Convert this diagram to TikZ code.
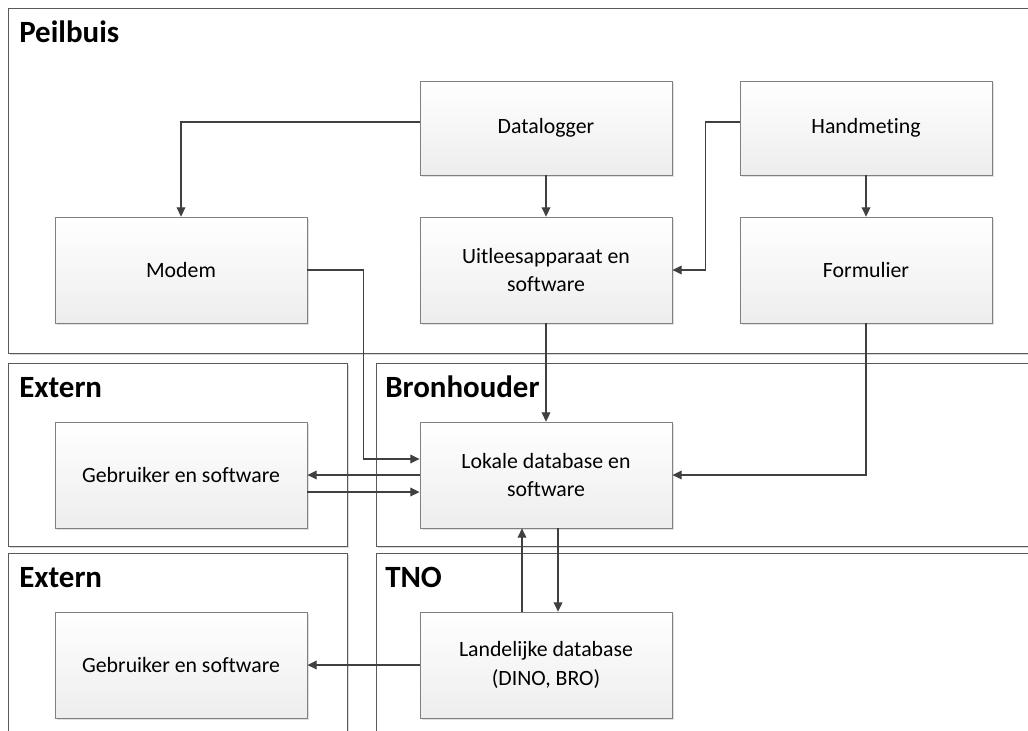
\documentclass[tikz,border=0pt]{standalone}
\usepackage{fontspec}
\setmainfont[Ligatures={NoCommon}]{Carlito}
\usetikzlibrary{shadows,arrows.meta}
\definecolor{linegray}{HTML}{404040}
\definecolor{framegray}{HTML}{595959}
\definecolor{boxgray}{HTML}{808080}
\begin{document}
\begin{tikzpicture}[x=0.025cm,y=-0.025cm,
	blok/.style={draw=boxgray,line width=0.6pt,top color=white,bottom color=black!7,minimum
			width=6.3cm,minimum height=2.65cm,inner sep=0pt,align=center,text=black,
			font=\fontsize{15.5}{20.5}\selectfont,
			drop shadow={shadow xshift=0.06cm,shadow yshift=-0.06cm,fill=black!12,opacity=1}},
	kop/.style={anchor=base west,inner sep=0pt,font=\fontsize{22}{26}\selectfont\bfseries},
	zone/.style={draw=framegray,line width=0.6pt,fill=white,
			drop shadow={shadow xshift=0.04cm,shadow yshift=-0.05cm,fill=black!15,opacity=1}},
	pijl/.style={draw=linegray,line width=0.8pt,-{Triangle[length=0.23cm,width=0.22cm]}}]
	\useasboundingbox (0,0) rectangle (1028,731);
	\clip (0,0) rectangle (1028,731);
	% zones
	\draw[zone] (8,8) rectangle (1060,353);
	\draw[zone] (8,363) rectangle (347,546);
	\draw[zone] (376,363) rectangle (1060,546);
	\draw[zone] (8,553) rectangle (347,760);
	\draw[zone] (376,553) rectangle (1060,760);
	\node[kop] (peilbuis) at (19,42) {Peilbuis};
	\node[kop] (extern1) at (19,397) {Extern};
	\node[kop] (bronhouder) at (385,397) {Bronhouder};
	\node[kop] (extern2) at (19,587) {Extern};
	\node[kop] (tno) at (385,587) {TNO};
	% blokken
	\node[blok,minimum height=2.35cm] (datalogger) at (546,128) {Datalogger};
	\node[blok,minimum height=2.35cm] (handmeting) at (866,128) {Handmeting};
	\node[blok] (modem) at (181,270) {Modem};
	\node[blok] (uitlees) at (546,270) {Uitleesapparaat en\\software};
	\node[blok] (formulier) at (866,270) {Formulier};
	\node[blok] (gebruiker1) at (181,475) {Gebruiker en software};
	\node[blok] (lokaal) at (546,475) {Lokale database en\\software};
	\node[blok] (gebruiker2) at (181,665) {Gebruiker en software};
	\node[blok] (landelijk) at (546,665) {Landelijke database\\(DINO, BRO)};
	% verbindingen
	\draw[pijl] ([yshift=0.15cm]datalogger.west) -| (modem.north);
	\draw[pijl] (datalogger.south) -- (uitlees.north);
	\draw[pijl] ([yshift=0.15cm]handmeting.west) -- ++(-34,0) |- (uitlees.east);
	\draw[pijl] (handmeting.south) -- (formulier.north);
	\draw[pijl] (modem.east) -- ++(56,0) |- ([yshift=0.4cm]lokaal.west);
	\draw[pijl] (uitlees.south) -- (lokaal.north);
	\draw[pijl] (formulier.south) |- (lokaal.east);
	\draw[pijl] (lokaal.west) -- (gebruiker1.east);
	\draw[pijl] ([yshift=-0.425cm]gebruiker1.east) -- ([yshift=-0.425cm]lokaal.west);
	\draw[pijl] ([xshift=-0.6cm]landelijk.north) -- ([xshift=-0.6cm]lokaal.south);
	\draw[pijl] ([xshift=0.3cm]lokaal.south) -- ([xshift=0.3cm]landelijk.north);
	\draw[pijl] (landelijk.west) -- (gebruiker2.east);
\end{tikzpicture}
\end{document}
